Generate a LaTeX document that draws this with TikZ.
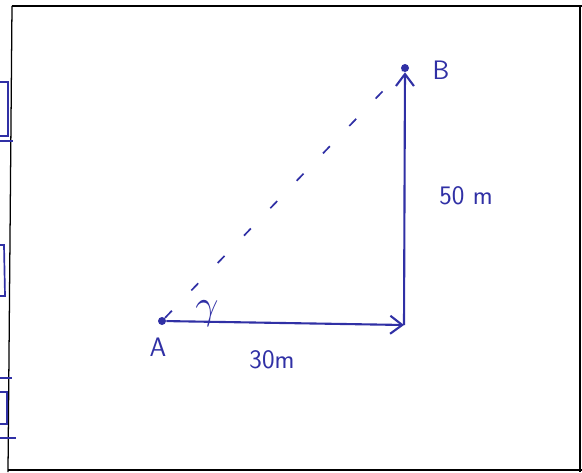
\documentclass[tikz,border=0pt]{standalone}
\usepackage{amsmath}
\usepackage{amssymb}
\usetikzlibrary{arrows.meta, positioning}

\definecolor{ink}{RGB}{48,48,165}

\begin{document}
\begin{tikzpicture}[
    x=0.025cm, y=-0.025cm,
    every node/.style={font=\fontsize{19}{22}\selectfont\sffamily, text=ink},
    dot/.style={
        circle,
        fill=ink,
        inner sep=0pt,
        minimum size=2mm
    },
    vec/.style={-{Straight Barb[length=3mm, width=4.5mm]}, draw=ink, line width=1.5pt},
    guide/.style={draw=ink, line width=1.2pt, dash pattern=on 2.5mm off 7mm},
    edge/.style={draw=ink, line width=1.2pt}
]

\useasboundingbox (0,0) rectangle (582,472);

% paper frame
\draw[line width=0.9pt] (12,6) -- (582,6);
\draw[line width=0.9pt] (12,6) -- (8,472);
\draw[line width=0.9pt] (580,6) -- (580,472);
\draw[line width=0.9pt] (8,470) -- (582,470);

% boxes at the left edge
\draw[edge] (0,82) -- (8,82) -- (8,136) -- (0,136);
\draw[edge] (0,141) -- (13,141);
\draw[edge] (0,245) -- (4,245) -- (5,296) -- (0,296);
\draw[edge] (0,378) -- (12,378);
\draw[edge] (0,392) -- (7,392) -- (7,424) -- (0,424);
\draw[edge] (0,438) -- (16,438);

% points and corner
\node[dot] (A) at (162,321) {};
\node[dot] (B) at (405,68) {};
\coordinate (C) at (404,325);

\draw[vec] (A) -- (C);
\draw[vec] (C) -- (B);
\draw[guide] (A) -- (B);

\node (lA) at (158,347) {A};
\node (lB) at (441,70) {B};
\node (dx) at (272,360) {30m};
\node (dy) at (466,196) {50 m};
\node (ang) at (207,314) {\scalebox{1.7}{$\gamma$}};

\end{tikzpicture}
\end{document}
